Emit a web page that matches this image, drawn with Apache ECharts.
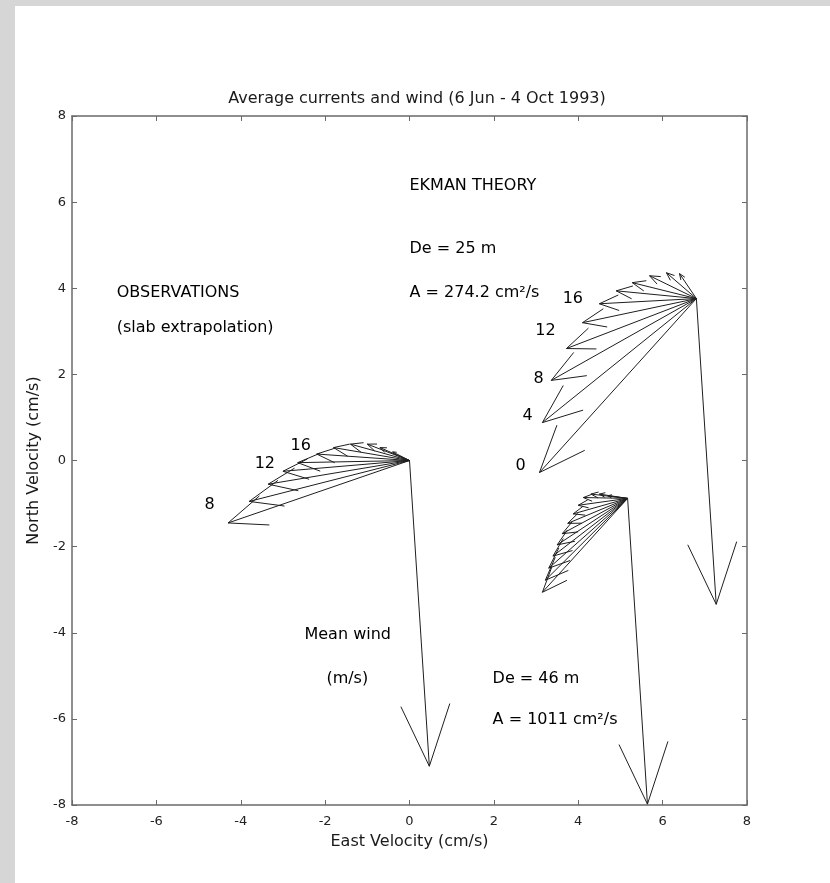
<!DOCTYPE html>
<html>
<head>
<meta charset="utf-8">
<script src="https://cdn.jsdelivr.net/npm/echarts@6/dist/echarts.min.js"></script>
<style>
  html, body { margin: 0; padding: 0; background: #d6d6d6; }
  #paper { position: absolute; left: 15px; top: 6px; width: 815px; height: 877px; background: #fff; }
  #chart { position: absolute; left: 0; top: 0; width: 830px; height: 883px; }
</style>
</head>
<body>
<div id="paper"></div>
<div id="chart"></div>
<script>
// axis ticks
const xTicks = [-8, -6, -4, -2, 0, 2, 4, 6, 8]
const yTicks = [-8, -6, -4, -2, 0, 2, 4, 6, 8]

// mean wind vector (m/s), drawn from each hodograph origin
const windU = 0.47
const windV = -7.1

// observations (slab extrapolation), origin at 0,0
const obsOrigin = [0, 0]
const obsU = [-4.3, -3.8, -3.35, -3.0, -2.65, -2.2, -1.8, -1.4, -1.0, -0.7, -0.4]
const obsV = [-1.45, -0.95, -0.55, -0.25, -0.05, 0.15, 0.3, 0.38, 0.38, 0.3, 0.2]

// Ekman theory, De = 25 m, A = 274.2 cm2/s
const ek25Origin = [6.8, 3.76]
const ek25U = [3.08, 3.15, 3.36, 3.72, 4.1, 4.5, 4.9, 5.28, 5.69, 6.09, 6.4]
const ek25V = [-0.28, 0.88, 1.86, 2.6, 3.2, 3.64, 3.94, 4.13, 4.29, 4.36, 4.34]

// Ekman theory, De = 46 m, A = 1011 cm2/s
const ek46Origin = [5.17, -0.88]
const ek46U = [3.15, 3.22, 3.3, 3.4, 3.5, 3.62, 3.75, 3.88, 4.0, 4.12, 4.3, 4.5, 4.7]
const ek46V = [-3.06, -2.78, -2.5, -2.22, -1.96, -1.7, -1.46, -1.24, -1.04, -0.86, -0.78, -0.78, -0.82]

// depth labels [x, y, text]
const depthLabels = [
  [-4.86, -1.04, '8'],
  [-3.67, -0.07, '12'],
  [-2.82, 0.35, '16'],
  [2.51, -0.12, '0'],
  [2.68, 1.04, '4'],
  [2.94, 1.9, '8'],
  [2.98, 3.0, '12'],
  [3.63, 3.76, '16']
]

// annotations [x, y, text]
const notes = [
  [0, 6.38, 'EKMAN THEORY'],
  [0, 4.92, 'De = 25 m'],
  [0, 3.9, 'A = 274.2 cm²/s'],
  [-6.94, 3.9, 'OBSERVATIONS'],
  [-6.94, 3.09, '(slab extrapolation)'],
  [-2.49, -4.06, 'Mean wind'],
  [-1.97, -5.06, '(m/s)'],
  [1.97, -5.06, 'De = 46 m'],
  [1.97, -6.03, 'A = 1011 cm²/s']
]

const arrows = []
obsU.forEach((u, i) => arrows.push([obsOrigin[0], obsOrigin[1], u, obsV[i]]))
ek25U.forEach((u, i) => arrows.push([ek25Origin[0], ek25Origin[1], u, ek25V[i]]))
ek46U.forEach((u, i) => arrows.push([ek46Origin[0], ek46Origin[1], u, ek46V[i]]))
;[obsOrigin, ek25Origin, ek46Origin].forEach(o => arrows.push([o[0], o[1], o[0] + windU, o[1] + windV]))

const renderArrow = (params, api) => {
  const p0 = api.coord([api.value(0), api.value(1)])
  const p1 = api.coord([api.value(2), api.value(3)])
  const dx = p1[0] - p0[0]
  const dy = p1[1] - p0[1]
  const a = 0.2, b = 0.4
  const w1 = [p1[0] - a * (dx - b * dy), p1[1] - a * (dy + b * dx)]
  const w2 = [p1[0] - a * (dx + b * dy), p1[1] - a * (dy - b * dx)]
  const style = { stroke: '#1e1e1e', lineWidth: 1, fill: null }
  return {
    type: 'group',
    children: [
      { type: 'line', shape: { x1: p0[0], y1: p0[1], x2: p1[0], y2: p1[1] }, style },
      { type: 'polyline', shape: { points: [w1, p1, w2] }, style }
    ]
  }
}

const axisLine = { show: true, onZero: false, lineStyle: { color: '#6a6a6a', width: 1.5 } }
const axisTick = { show: true, inside: true, length: 5, lineStyle: { color: '#6a6a6a' } }
const font = 'DejaVu Sans, sans-serif'

const chart = echarts.init(document.getElementById('chart'))
chart.setOption({
  animation: false,
  title: {
    text: 'Average currents and wind (6 Jun - 4 Oct 1993)',
    left: 412,
    textAlign: 'center',
    top: 86,
    textStyle: { fontSize: 16, fontWeight: 'normal', color: '#1a1a1a', fontFamily: font }
  },
  grid: { left: 72, right: 83, top: 116, bottom: 78 },
  xAxis: [
    {
      type: 'value', min: xTicks[0], max: xTicks[xTicks.length - 1], interval: 2,
      position: 'bottom', axisLine, axisTick, splitLine: { show: false },
      axisLabel: { color: '#222', fontSize: 13, margin: 10, fontFamily: font },
      name: 'East Velocity (cm/s)', nameLocation: 'middle', nameGap: 29,
      nameTextStyle: { color: '#1a1a1a', fontSize: 16, fontFamily: font }
    },
    {
      type: 'value', min: xTicks[0], max: xTicks[xTicks.length - 1], interval: 2,
      position: 'top', axisLine, axisTick, splitLine: { show: false },
      axisLabel: { show: false }
    }
  ],
  yAxis: [
    {
      type: 'value', min: yTicks[0], max: yTicks[yTicks.length - 1], interval: 2,
      position: 'left', axisLine, axisTick, splitLine: { show: false },
      axisLabel: { color: '#222', fontSize: 13, margin: 6, fontFamily: font },
      name: 'North Velocity (cm/s)', nameLocation: 'middle', nameGap: 29,
      nameTextStyle: { color: '#1a1a1a', fontSize: 16, fontFamily: font }
    },
    {
      type: 'value', min: yTicks[0], max: yTicks[yTicks.length - 1], interval: 2,
      position: 'right', axisLine, axisTick, splitLine: { show: false },
      axisLabel: { show: false }
    }
  ],
  series: [
    {
      type: 'custom',
      renderItem: renderArrow,
      encode: { x: [0, 2], y: [1, 3] },
      clip: false,
      data: arrows
    },
    {
      type: 'scatter',
      symbolSize: 0,
      itemStyle: { opacity: 1 },
      data: notes.concat(depthLabels),
      label: {
        show: true,
        position: 'right',
        distance: 0,
        formatter: p => p.data[2],
        color: '#000',
        opacity: 1,
        fontSize: 16,
        fontFamily: font
      }
    }
  ]
})
</script>
</body>
</html>
